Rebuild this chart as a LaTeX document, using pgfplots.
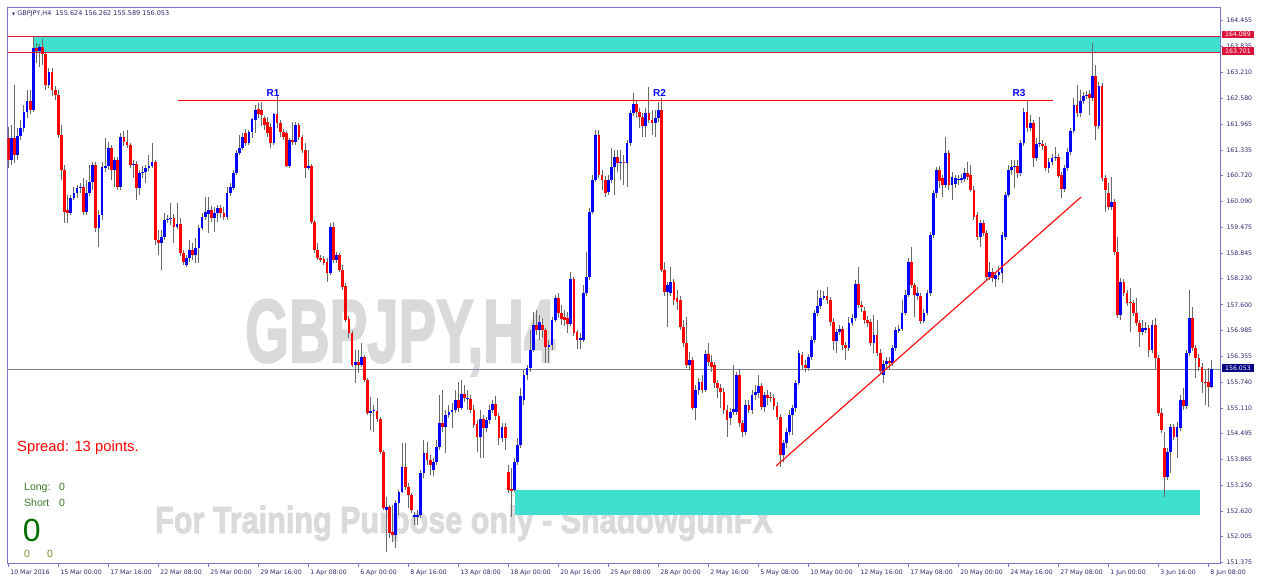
\documentclass[border=0pt]{standalone}
\usepackage{pgfplots}
\pgfplotsset{compat=1.18}
\usepackage{pgfplotstable}
\usepackage{graphicx}
\usepackage{fontspec}
\setmainfont{DejaVu Sans}
\newfontfamily\arial{Liberation Sans}
\newfontfamily\wmfont[BoldFeatures={FakeBold=2.5}]{Liberation Sans}
\definecolor{axc}{RGB}{120,120,200}
\definecolor{tkc}{RGB}{40,40,110}
\definecolor{upc}{RGB}{0,0,255}
\definecolor{dnc}{RGB}{255,0,0}
\definecolor{wick}{RGB}{105,105,105}
\definecolor{turq}{RGB}{64,224,208}
\definecolor{wm}{RGB}{218,218,218}
\definecolor{crim}{RGB}{220,20,60}
\definecolor{navyc}{RGB}{0,0,128}
\definecolor{slate}{RGB}{119,136,153}
\definecolor{grn}{RGB}{60,120,40}
\definecolor{dgrn}{RGB}{0,110,0}
\definecolor{olv}{RGB}{120,140,40}

\pgfplotstableread{
x o h l c
1 161.09 161.94 160.97 161.63
3 161.21 161.87 161.09 161.67
4 161.67 162.06 161.58 161.87
5 161.87 162.42 161.77 162.25
6 162.25 162.78 162.11 162.52
8 162.30 164.09 162.25 163.80
10 163.72 163.89 163.34 163.82
13 162.90 163.31 162.83 163.22
20 159.82 160.25 159.77 160.18
21 160.18 160.44 160.13 160.30
22 160.30 160.49 160.18 160.42
23 160.42 160.54 160.30 160.44
25 159.84 160.61 159.77 160.30
26 160.30 160.97 160.23 160.56
27 160.56 161.05 160.37 160.97
29 159.45 159.89 158.99 159.77
30 159.77 161.05 159.65 160.92
31 160.90 161.63 160.80 160.95
32 160.95 161.53 160.85 161.38
34 160.85 161.17 160.44 161.09
36 160.44 161.75 160.37 161.65
40 160.97 161.09 160.66 161.00
42 160.42 160.85 160.25 160.78
43 160.78 160.95 160.66 160.80
44 160.80 160.97 160.54 160.90
45 160.90 161.21 160.83 160.95
46 160.95 161.50 160.90 161.05
49 159.09 159.40 158.44 159.24
50 159.24 159.82 159.16 159.65
51 159.65 159.77 159.57 159.67
52 159.67 160.06 159.53 159.69
54 159.48 160.06 159.43 159.55
57 158.56 158.80 158.51 158.73
58 158.73 159.16 158.63 158.92
60 158.80 159.21 158.61 158.97
61 158.97 159.53 158.61 159.45
62 159.45 159.82 159.40 159.72
63 159.72 160.20 159.65 159.84
64 159.79 160.20 159.33 159.89
66 159.69 159.96 159.36 159.82
67 159.82 160.01 159.60 159.94
70 159.72 160.44 159.65 160.30
71 160.30 160.54 160.23 160.44
72 160.42 160.85 160.37 160.78
73 160.78 161.34 160.73 161.26
74 161.26 161.70 161.21 161.38
75 161.38 161.75 161.34 161.65
77 161.50 161.82 161.46 161.77
78 161.77 162.11 161.63 162.08
79 162.06 162.42 161.75 162.30
85 161.50 162.23 161.46 162.20
90 160.95 161.63 160.90 161.58
92 161.53 162.01 161.46 161.94
96 160.90 161.34 160.85 160.95
103 158.37 159.57 158.32 159.48
105 158.68 158.87 158.61 158.80
111 156.15 156.51 155.71 156.22
113 156.15 156.68 156.10 156.34
116 154.99 155.37 154.58 155.04
117 155.04 155.18 154.53 155.06
121 152.65 152.96 151.63 152.72
124 152.04 152.89 151.73 152.82
125 152.82 153.13 152.53 153.08
126 153.08 154.26 153.06 153.69
130 152.48 152.60 152.29 152.53
131 152.48 152.65 152.29 152.53
132 152.53 153.61 152.45 153.54
133 153.54 154.34 153.42 154.02
136 153.61 153.90 153.47 153.81
137 153.81 154.34 153.73 154.17
138 154.17 155.42 154.10 154.75
140 154.65 155.06 154.02 154.94
141 154.94 155.18 154.87 155.01
142 155.01 155.23 154.63 155.06
143 155.06 155.54 154.99 155.30
145 155.11 155.78 155.06 155.45
147 155.33 155.54 155.06 155.35
151 154.41 155.06 153.90 154.84
153 154.63 154.89 154.53 154.82
154 154.82 155.18 154.72 155.06
155 155.06 155.30 154.99 155.21
158 154.39 154.75 154.29 154.65
162 153.13 153.90 153.08 153.81
163 153.81 154.39 153.73 154.22
164 154.22 155.59 154.14 155.40
165 155.30 156.03 155.18 155.91
166 155.91 156.15 155.78 156.07
167 156.07 156.99 155.98 156.51
168 156.51 157.43 156.46 157.11
170 156.99 157.35 156.75 157.18
173 156.58 156.75 156.19 156.63
174 156.63 157.31 156.51 157.23
175 157.23 157.84 157.18 157.76
180 157.14 158.39 157.09 158.22
183 156.75 156.92 156.53 156.80
184 156.75 158.08 156.70 157.88
185 157.88 158.87 157.81 158.27
186 158.27 159.94 158.20 159.84
187 159.84 160.73 159.79 160.61
188 160.61 161.82 160.56 161.70
192 160.32 160.73 160.25 160.61
193 160.61 161.38 160.54 160.92
194 160.92 161.34 160.25 161.17
196 161.02 161.34 160.61 161.05
198 161.02 161.58 160.44 161.50
199 161.50 162.30 161.43 162.23
200 162.23 162.71 162.16 162.45
204 161.91 162.35 161.65 162.23
207 161.99 162.30 161.65 162.11
208 162.11 162.49 162.01 162.30
211 157.91 158.15 157.06 158.08
212 157.88 158.51 157.81 158.15
218 156.15 156.46 156.03 156.27
220 155.11 155.66 154.82 155.54
221 155.54 155.83 155.42 155.74
223 155.54 156.51 155.50 156.41
231 154.87 155.11 154.70 155.01
232 155.01 156.15 154.94 155.08
233 155.01 155.98 154.94 155.91
236 154.53 155.30 154.46 155.18
238 155.06 155.54 154.96 155.42
239 155.42 155.66 155.30 155.50
240 155.47 155.91 155.35 155.64
242 155.13 155.50 155.01 155.42
248 153.97 154.34 153.81 154.26
249 154.26 154.63 154.14 154.53
250 154.53 155.06 154.46 154.94
251 154.94 155.18 154.46 155.11
252 155.11 155.78 155.01 155.71
253 155.71 156.51 155.66 156.44
256 156.07 156.41 156.00 156.34
257 156.34 156.85 156.27 156.75
258 156.75 157.47 156.68 157.40
259 157.40 157.96 157.33 157.57
260 157.57 157.96 157.50 157.76
261 157.76 157.93 157.72 157.81
265 156.73 157.02 156.44 156.94
266 156.94 157.11 156.87 157.02
269 156.56 157.31 156.48 157.16
270 157.16 157.38 157.09 157.28
271 157.28 158.20 157.21 158.10
277 156.68 157.35 156.44 156.87
280 155.91 156.27 155.71 156.17
281 156.17 156.34 156.07 156.24
283 156.19 156.63 156.12 156.56
284 156.56 157.06 156.48 156.99
285 156.97 157.11 156.92 157.02
286 157.02 157.72 156.97 157.40
287 157.40 157.96 157.35 157.84
288 157.84 158.73 157.79 158.63
291 157.81 158.03 157.72 157.88
293 157.21 157.50 157.16 157.40
294 157.40 157.96 157.35 157.88
295 157.88 159.36 157.81 159.28
296 159.28 160.37 159.21 160.30
297 160.30 160.92 160.18 160.85
300 160.49 161.65 160.42 161.26
302 160.49 160.80 160.13 160.68
303 160.51 160.73 160.42 160.66
304 160.61 160.73 160.49 160.64
305 160.61 160.76 160.54 160.66
306 160.64 160.90 160.56 160.78
311 159.24 159.65 158.99 159.57
314 158.27 158.63 158.20 158.39
316 158.22 158.39 158.03 158.32
317 158.32 158.54 158.20 158.39
318 158.37 159.36 158.13 159.28
319 159.24 160.32 159.16 160.25
320 160.25 160.97 160.20 160.85
321 160.85 161.09 160.73 160.92
322 160.92 161.09 160.42 160.95
324 160.78 161.58 160.71 161.50
325 161.50 162.35 161.43 162.25
327 161.87 162.18 161.79 161.99
329 161.14 161.63 161.07 161.48
330 161.48 162.13 161.41 161.50
333 160.90 161.14 160.78 161.05
334 161.05 161.24 160.97 161.14
335 161.14 161.41 161.07 161.17
338 160.39 160.97 160.32 160.90
339 160.90 161.38 160.83 161.29
340 161.29 161.87 161.21 161.79
341 161.79 162.59 161.75 162.42
343 162.23 162.78 162.13 162.52
344 162.52 162.74 162.45 162.64
345 162.64 162.76 162.57 162.66
347 162.59 163.92 162.52 163.12
349 161.91 162.98 161.84 162.88
353 159.96 160.68 159.89 160.08
356 157.35 158.25 157.23 158.15
363 156.94 157.23 156.87 157.04
364 156.99 157.18 156.92 157.04
366 156.51 157.23 156.44 157.11
371 153.44 154.14 153.37 154.05
372 154.05 154.72 153.54 154.65
374 154.41 154.77 153.90 154.65
375 154.63 155.42 154.56 155.30
377 155.16 156.51 155.08 156.44
378 156.44 157.96 156.36 157.28
385 155.624 156.262 155.589 156.053
}\up

\pgfplotstableread{
x o h l c
0 161.63 161.89 160.90 161.09
2 161.63 162.90 161.02 161.21
7 162.52 162.78 162.20 162.30
9 163.80 163.92 163.43 163.72
11 163.82 164.01 163.39 163.65
12 163.65 163.70 162.78 162.90
14 163.22 163.31 162.64 162.78
15 162.78 162.88 162.54 162.66
16 162.66 162.78 161.63 161.70
17 161.70 161.94 160.61 160.85
18 160.85 160.97 159.57 159.84
19 159.89 160.25 159.57 159.82
24 160.44 160.66 159.77 159.84
28 160.97 161.05 159.36 159.45
33 161.38 161.46 160.61 160.85
35 161.09 161.17 160.37 160.44
37 161.65 161.79 161.43 161.53
38 161.53 161.82 161.38 161.46
39 161.46 161.50 160.90 160.97
41 161.00 161.07 160.13 160.42
47 161.05 161.09 159.04 159.16
48 159.16 159.40 158.80 159.09
53 159.69 159.79 159.09 159.48
55 159.55 159.69 158.78 158.85
56 158.85 158.92 158.56 158.63
59 158.92 159.09 158.68 158.80
65 159.89 159.98 159.60 159.69
68 159.94 160.01 159.69 159.82
69 159.82 159.96 159.65 159.72
76 161.75 161.84 161.43 161.50
80 162.33 162.47 162.11 162.20
81 162.30 162.49 161.91 162.18
82 162.11 162.16 161.82 161.94
83 162.01 162.13 161.65 161.75
84 161.89 161.99 161.38 161.50
86 162.20 162.66 161.87 161.99
87 161.99 162.06 161.65 161.77
88 161.77 161.84 161.58 161.65
89 161.75 161.79 160.92 160.95
91 161.58 162.01 161.46 161.53
93 161.94 161.99 161.58 161.65
94 161.65 161.70 161.26 161.34
95 161.34 161.50 160.66 160.90
97 160.95 161.00 159.55 159.60
98 159.60 159.65 158.85 158.92
99 158.92 159.09 158.68 158.73
100 158.73 158.80 158.63 158.68
101 158.70 158.78 158.56 158.61
102 158.63 158.73 158.15 158.37
104 159.48 159.60 158.61 158.68
106 158.80 158.85 158.39 158.44
107 158.44 158.56 157.96 158.03
108 158.05 158.13 157.18 157.23
109 157.26 157.33 156.80 156.92
110 156.92 156.97 156.10 156.15
112 156.22 156.51 155.95 156.15
114 156.34 156.39 155.74 155.78
115 155.78 155.83 154.94 154.99
118 155.04 155.35 154.77 154.84
119 154.84 154.89 154.00 154.05
120 154.05 154.10 152.65 152.70
122 152.72 152.77 151.97 152.09
123 152.12 152.77 151.88 152.04
127 153.69 154.26 153.13 153.20
128 153.20 153.30 152.70 153.01
129 153.01 153.06 152.58 152.65
134 154.02 154.29 153.73 153.85
135 153.85 153.97 153.49 153.73
139 154.75 155.54 154.53 154.65
144 155.30 155.74 155.01 155.11
146 155.45 155.66 155.25 155.35
148 155.33 155.42 154.99 155.06
149 155.06 155.18 154.63 154.70
150 154.72 154.82 154.05 154.41
152 154.84 154.94 153.90 154.63
156 155.21 155.40 154.82 154.92
157 154.92 154.99 154.22 154.39
159 154.65 154.75 154.10 154.39
160 153.56 153.73 153.06 153.13
161 153.15 153.66 152.48 153.11
169 157.11 157.47 156.87 156.99
171 157.11 157.28 156.80 156.99
172 156.99 157.04 156.19 156.58
176 157.76 157.88 157.28 157.40
177 157.40 157.59 157.11 157.26
178 157.31 157.47 157.09 157.23
179 157.28 157.43 156.92 157.14
181 158.22 158.27 156.85 156.92
182 156.94 156.99 156.53 156.75
189 161.70 161.82 160.66 160.73
190 160.73 160.85 160.37 160.61
191 160.61 160.71 160.20 160.30
195 161.17 161.34 160.80 161.02
197 161.05 161.21 160.49 161.02
201 162.45 162.54 162.11 162.25
202 162.25 162.35 161.87 162.13
203 162.13 162.23 161.65 161.91
205 162.23 162.86 161.99 162.06
206 162.06 162.30 161.70 161.99
209 162.30 162.59 158.39 158.44
210 158.44 158.63 157.81 157.91
213 158.15 158.22 157.59 157.72
214 157.76 157.96 157.47 157.67
215 157.72 157.81 156.99 157.06
216 157.06 157.23 156.58 156.68
217 156.68 157.31 156.07 156.15
219 156.27 156.34 155.06 155.11
222 155.74 155.91 155.47 155.54
224 156.41 156.68 156.12 156.22
225 156.22 156.39 155.98 156.10
226 156.15 156.22 155.59 155.71
227 155.71 155.78 155.35 155.59
228 155.59 155.69 155.11 155.50
229 155.50 155.59 154.96 155.06
230 155.06 155.18 154.41 154.82
234 155.91 156.03 154.65 154.75
235 154.75 154.82 154.41 154.53
237 155.18 155.30 154.99 155.06
241 155.64 155.71 155.06 155.13
243 155.42 155.54 155.18 155.35
244 155.37 155.50 155.25 155.35
245 155.35 155.45 155.06 155.16
246 155.16 155.25 154.82 154.89
247 154.89 154.96 153.69 153.97
254 156.39 156.46 156.03 156.15
255 156.15 156.27 155.98 156.07
262 157.81 158.03 157.62 157.72
263 157.72 157.79 157.09 157.18
264 157.18 157.28 156.51 156.73
267 157.02 157.09 156.51 156.63
268 156.63 156.70 156.27 156.56
272 158.10 158.51 157.52 157.59
273 157.59 157.69 157.43 157.55
274 157.45 157.55 157.14 157.23
275 157.23 157.33 157.06 157.16
276 157.18 157.26 156.61 156.68
278 156.87 157.23 156.36 156.44
279 156.44 156.53 155.93 156.00
282 156.24 156.34 156.03 156.19
289 158.63 158.99 158.00 158.08
290 158.08 158.13 157.31 157.84
292 157.81 157.88 157.14 157.21
298 160.85 160.95 160.42 160.59
299 160.66 160.73 160.20 160.49
301 161.26 161.34 160.37 160.49
307 160.78 161.05 160.61 160.68
308 160.73 160.97 160.32 160.37
309 160.37 160.47 159.65 159.72
310 159.77 159.84 159.16 159.24
312 159.57 159.65 159.26 159.33
313 159.33 159.40 158.20 158.27
315 158.39 158.49 158.15 158.25
323 160.95 161.09 160.66 160.78
326 162.25 162.54 161.77 161.87
328 161.99 162.06 160.92 161.14
331 161.48 161.58 161.34 161.43
332 161.43 161.50 160.83 160.90
336 161.17 161.24 160.66 160.71
337 160.73 160.80 160.18 160.39
342 162.42 162.90 162.13 162.23
346 162.69 162.78 162.18 162.59
348 163.12 163.39 161.58 161.91
350 162.88 162.95 160.59 160.66
351 160.66 160.73 159.84 160.37
352 160.30 160.54 159.89 159.96
354 160.08 160.15 158.80 158.87
355 158.87 159.24 157.28 157.35
357 158.15 158.22 157.81 157.88
358 157.88 157.96 157.57 157.64
359 157.67 158.00 156.94 157.64
360 157.64 157.72 157.33 157.40
361 157.40 157.76 157.09 157.16
362 157.16 157.23 156.58 156.94
365 157.04 157.11 156.34 156.51
367 157.11 157.28 156.03 156.32
368 156.32 156.39 154.92 154.99
369 154.99 155.11 154.51 154.58
370 154.14 154.53 152.96 153.44
373 154.65 154.72 154.34 154.41
376 155.30 155.59 155.06 155.16
379 157.28 157.55 156.48 156.56
380 156.56 156.63 155.83 156.32
381 156.32 156.41 156.00 156.10
382 156.10 156.19 155.47 155.74
383 155.74 156.03 155.18 155.71
384 155.74 156.07 155.13 155.62
}\dn

\begin{document}
\begin{tikzpicture}
% watermarks (background)
\node[anchor=base west, inner sep=0, text=wm] at (237.7pt,201.5pt)
  {\scalebox{0.63}[1]{\wmfont\bfseries\fontsize{89.4}{90}\selectfont GBPJPY,H4}};
\node[anchor=base west, inner sep=0, text=wm] at (147.7pt,30.5pt)
  {\scalebox{0.81}[1]{\wmfont\bfseries\fontsize{37.7}{38}\selectfont For Training Purpose only - ShadowgunFX}};

\begin{axis}[
  at={(0pt,0pt)}, anchor=south west,
  scale only axis, width=1212.7pt, height=555.8pt,
  xmin=-0.32, xmax=387.74, ymin=151.356, ymax=164.769,
  axis line style={draw=axc, line width=0.8pt},
  xtick pos=left, ytick pos=right, tick align=outside,
  major tick length=3pt,
  tick style={draw=axc, line width=0.6pt},
  xtick={0,16,...,384},
  xticklabels={10 Mar 2016,15 Mar 00:00,17 Mar 16:00,22 Mar 08:00,25 Mar 00:00,29 Mar 16:00,1 Apr 08:00,6 Apr 00:00,8 Apr 16:00,13 Apr 08:00,18 Apr 00:00,20 Apr 16:00,25 Apr 08:00,28 Apr 00:00,2 May 16:00,5 May 08:00,10 May 00:00,12 May 16:00,17 May 08:00,20 May 00:00,24 May 16:00,27 May 08:00,1 Jun 00:00,3 Jun 16:00,8 Jun 08:00},
  ytick={151.375,152.005,152.620,153.250,153.865,154.495,155.110,155.740,156.355,156.985,157.600,158.230,158.845,159.475,160.090,160.720,161.335,161.965,162.580,163.210,163.835,164.455},
  yticklabels={151.375,152.005,152.620,153.250,153.865,154.495,155.110,155.740,156.355,156.985,157.600,158.230,158.845,159.475,160.090,160.720,161.335,161.965,162.580,163.210,163.835,164.455},
  ticklabel style={font=\fontsize{6.2}{7}\selectfont, text=tkc},
  xticklabel style={anchor=north west, xshift=-1.5pt},
  yticklabel style={anchor=west},
]
% background objects
\fill[turq] (axis cs:7.9,163.701) rectangle (axis cs:390,164.089);
\fill[turq] (axis cs:162.14,152.538) rectangle (axis cs:381.3,153.118);
\addplot[draw=slate, line width=0.6pt, forget plot] coordinates {(-1,156.053) (390,156.053)};

% wicks
\addplot[draw=none, mark=none, forget plot,
  error bars/.cd, y dir=plus, y explicit, error mark=none,
  error bar style={draw=wick, line width=0.9pt}]
  table[x=x, y=l, y error plus expr=\thisrow{h}-\thisrow{l}] {\up};
\addplot[draw=none, mark=none, forget plot,
  error bars/.cd, y dir=plus, y explicit, error mark=none,
  error bar style={draw=wick, line width=0.9pt}]
  table[x=x, y=l, y error plus expr=\thisrow{h}-\thisrow{l}] {\dn};
% bodies
\addplot[draw=none, mark=none, forget plot,
  error bars/.cd, y dir=plus, y explicit, error mark=none,
  error bar style={draw=upc, line width=2.7pt}]
  table[x=x, y=o, y error plus expr=\thisrow{c}-\thisrow{o}] {\up};
\addplot[draw=none, mark=none, forget plot,
  error bars/.cd, y dir=plus, y explicit, error mark=none,
  error bar style={draw=dnc, line width=2.7pt}]
  table[x=x, y=c, y error plus expr=\thisrow{o}-\thisrow{c}] {\dn};

% lines
\addplot[draw=crim, line width=0.6pt, forget plot] coordinates {(-1,164.089) (390,164.089)};
\addplot[draw=crim, line width=0.6pt, forget plot] coordinates {(-1,163.701) (390,163.701)};
\addplot[draw=red, line width=1.1pt, forget plot] coordinates {(54.3,162.54) (334.3,162.54)};
\addplot[draw=red, line width=1.1pt, forget plot] coordinates {(245.7,153.71) (343.3,160.20)};

\node[anchor=base, inner sep=0, text=blue, font=\arial\bfseries\fontsize{10}{12}\selectfont] at (axis cs:84.7,162.614) {R1};
\node[anchor=base, inner sep=0, text=blue, font=\arial\bfseries\fontsize{10}{12}\selectfont] at (axis cs:208.4,162.614) {R2};
\node[anchor=base, inner sep=0, text=blue, font=\arial\bfseries\fontsize{10}{12}\selectfont] at (axis cs:323.4,162.614) {R3};
\end{axis}

% right-side price labels
\node[fill=crim, text=white, inner sep=0, minimum width=32pt, minimum height=7.5pt,
  font=\fontsize{6.2}{7}\selectfont] at (1230.7pt,529.0pt) {164.089};
\node[fill=crim, text=white, inner sep=0, minimum width=32pt, minimum height=7.5pt,
  font=\fontsize{6.2}{7}\selectfont] at (1230.7pt,512.5pt) {163.701};
\node[fill=navyc, text=white, inner sep=0, minimum width=32pt, minimum height=7.5pt,
  font=\fontsize{6.2}{7}\selectfont] at (1230.7pt,195.7pt) {156.053};

% title
\node[anchor=west, inner sep=0, text=tkc, font=\fontsize{6.5}{8}\selectfont] at (4.7pt,549.3pt)
  {\scalebox{0.6}{▼}\ GBPJPY,H4\ \ 155.624 156.262 155.589 156.053};

% indicator texts
\node[anchor=base west, inner sep=0, text=red, font=\arial\fontsize{14.8}{16}\selectfont] at (9.7pt,111.8pt) {Spread: 13 points.};
\node[anchor=base west, inner sep=0, text=grn, font=\arial\fontsize{10.5}{12}\selectfont] at (16.7pt,72.8pt) {Long:};
\node[anchor=base west, inner sep=0, text=grn, font=\arial\fontsize{10.5}{12}\selectfont] at (51.7pt,72.8pt) {0};
\node[anchor=base west, inner sep=0, text=grn, font=\arial\fontsize{10.5}{12}\selectfont] at (16.7pt,57.5pt) {Short};
\node[anchor=base west, inner sep=0, text=grn, font=\arial\fontsize{10.5}{12}\selectfont] at (51.7pt,57.5pt) {0};
\node[anchor=base west, inner sep=0, text=dgrn, font=\arial\fontsize{32}{34}\selectfont] at (15.4pt,22.5pt) {0};
\node[anchor=base west, inner sep=0, text=olv, font=\arial\fontsize{10.5}{12}\selectfont] at (16.7pt,5.8pt) {0};
\node[anchor=base west, inner sep=0, text=olv, font=\arial\fontsize{10.5}{12}\selectfont] at (39.7pt,5.8pt) {0};

\pgfresetboundingbox
\useasboundingbox (-7.3pt,-15.5pt) rectangle (1254.7pt,563.5pt);
\end{tikzpicture}
\end{document}
